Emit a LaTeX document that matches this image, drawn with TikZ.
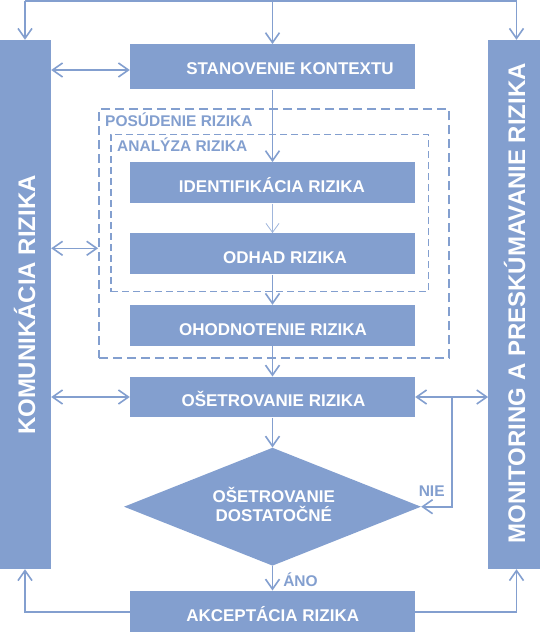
\documentclass[tikz,border=0pt]{standalone}
\usepackage{fontspec}
\setmainfont{Liberation Sans}
\usetikzlibrary{arrows.meta,shapes.geometric,calc}
\definecolor{bc}{RGB}{131,159,207}
\definecolor{bcl}{RGB}{160,182,220}
\begin{document}
\begin{tikzpicture}[x=1pt,y=-1pt,
  box/.style={fill=bc, draw=none, inner sep=0pt, minimum width=285pt},
  bar/.style={fill=bc, draw=none, inner sep=0pt},
  txt/.style={anchor=base, text=white, inner sep=0pt, font=\bfseries\fontsize{17}{20}\selectfont},
  bartxt/.style={anchor=base, text=white, inner sep=0pt, rotate=90, font=\bfseries\fontsize{24}{28}\selectfont},
  lbl/.style={inner sep=0pt, text=bc, font=\bfseries\fontsize{15.5}{18}\selectfont},
  line/.style={draw=bc, line width=1.6pt},
  arr/.style={line, -{Straight Barb[length=10pt,width=14pt]}},
  darr/.style={line, {Straight Barb[length=10pt,width=14pt]}-{Straight Barb[length=10pt,width=14pt]}},
  thinarr/.style={draw=bcl, line width=0.8pt, -{Straight Barb[length=9pt,width=13pt]}},
  outerdash/.style={draw=bc, line width=1.8pt, dash pattern=on 9pt off 5pt, inner sep=0pt},
  innerdash/.style={draw=bc, line width=1.5pt, dash pattern=on 7pt off 4pt, inner sep=0pt}
]
\useasboundingbox (0,0) rectangle (540,632);

% side bars
\node[bar, minimum width=51pt, minimum height=529pt] (kom) at (25.5,304.5) {};
\node[bar, minimum width=51.7pt, minimum height=529pt] (mon) at (514.15,304.5) {};
\node[bartxt] (komt) at (35,305) {KOMUNIKÁCIA RIZIKA};
\node[bartxt] (mont) at (525,303) {MONITORING A PRESKÚMAVANIE RIZIKA};

% dashed groups
\node[outerdash, minimum width=350pt, minimum height=249pt] (posb) at (274,233.8) {};
\node[innerdash, minimum width=317.3pt, minimum height=157.4pt] (anab) at (269.65,213) {};
\node[lbl, anchor=base west] (post) at (105,126) {POSÚDENIE RIZIKA};
\node[lbl, anchor=base west] (anat) at (117,151.7) {ANALÝZA RIZIKA};

% boxes
\node[box, minimum height=45pt] (stan) at (272.5,66.8) {};
\node[box, minimum height=41pt] (ident) at (272.5,182.8) {};
\node[box, minimum height=41pt] (odhad) at (272.5,253.8) {};
\node[box, minimum height=41pt] (ohod) at (272.5,325.5) {};
\node[box, minimum height=40.6pt] (oset) at (272.5,397) {};
\node[diamond, fill=bc, draw=none, inner sep=0pt, minimum width=297pt, minimum height=118pt] (dia) at (272.5,506.7) {};
\node[box, minimum height=41.3pt] (akc) at (272.5,611.35) {};

% box texts
\node[txt] (stant) at (290,74.7) {STANOVENIE KONTEXTU};
\node[txt] (identt) at (272,192.3) {IDENTIFIKÁCIA RIZIKA};
\node[txt] (odhadt) at (285,263.3) {ODHAD RIZIKA};
\node[txt] (ohodt) at (273,335) {OHODNOTENIE RIZIKA};
\node[txt] (osett) at (273.5,406) {OŠETROVANIE RIZIKA};
\node[txt] (diat1) at (273.8,502.7) {OŠETROVANIE};
\node[txt] (diat2) at (273.8,521.7) {DOSTATOČNÉ};
\node[txt] (akct) at (272.7,621.7) {AKCEPTÁCIA RIZIKA};
\node[lbl, anchor=base] (nie) at (431.7,496.7) {NIE};
\node[lbl, anchor=base] (ano) at (300.5,586.7) {ÁNO};

% coordinates
\coordinate (tl) at (25,1);
\coordinate (tm) at (272.5,1);
\coordinate (tr) at (516.5,1);
\coordinate (bl) at (25,612);
\coordinate (brr) at (516.5,612);
\coordinate (nb) at (451.7,397);

% top distribution
\draw[line] (tl) -- (tr);
\draw[arr] (tl) -- (tl |- kom.north);
\draw[arr] (tr) -- (tr |- mon.north);
\draw[arr] (tm) -- (stan.north);

% main flow
\draw[arr] (stan.south) -- (ident.north);
\draw[thinarr] (ident.south) -- (odhad.north);
\draw[arr] (odhad.south) -- (ohod.north);
\draw[arr] (ohod.south) -- (oset.north);
\draw[arr] (oset.south) -- (dia.north);
\draw[arr] (dia.south) -- (akc.north);

% communication arrows
\draw[darr] (kom.east |- 0,70) -- (stan.west |- 0,70);
\draw[darr] (kom.east |- 0,248.3) -- (posb.west |- 0,248.3);
\draw[darr] (kom.east |- oset.west) -- (oset.west);
\draw[darr] (oset.east) -- (oset.east -| mon.west);
\draw[arr] (nb) |- (dia.east);

% bottom returns
\draw[arr] (akc.west |- bl) -- (bl) -- (bl |- kom.south);
\draw[arr] (akc.east |- brr) -- (brr) -- (brr |- mon.south);
\end{tikzpicture}
\end{document}
